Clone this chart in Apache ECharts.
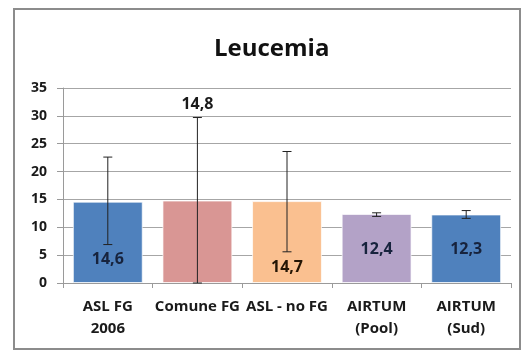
<!DOCTYPE html>
<html><head><meta charset="utf-8">
<script src="https://cdn.jsdelivr.net/npm/echarts@6/dist/echarts.min.js"></script>
<style>html,body{margin:0;padding:0;background:#fff}#c{width:528px;height:352px}</style>
</head><body><div id="c"></div>
<script>
var categories = ['ASL FG\n2006', 'Comune FG', 'ASL - no FG', 'AIRTUM\n(Pool)', 'AIRTUM\n(Sud)'];
var values = [14.6, 14.8, 14.7, 12.4, 12.3];
var labelTexts = ['14,6', '14,8', '14,7', '12,4', '12,3'];
var errLow = [6.9, 0, 5.6, 11.95, 11.6];
var errHigh = [22.6, 29.7, 23.6, 12.6, 13.0];
var yTicks = [0, 5, 10, 15, 20, 25, 30, 35];

var colors = ['#4F81BD', '#D99694', '#FAC090', '#B3A2C7', '#4F81BD'];
var labelColors = ['#17233d', '#1a1a1a', '#241505', '#17233d', '#17233d'];
var labelPos = [['inside', [0, 17]], ['inside', [0, -137]], ['inside', [0, 25]], ['inside', [0, 1]], ['inside', [0, 1]]];

var font = '"Open Sans", Lato, sans-serif';
var chart = echarts.init(document.getElementById('c'), null, {renderer: 'canvas'});
var barData = values.map(function (v, i) {
  return {
    value: v,
    itemStyle: {color: colors[i], borderColor: 'rgba(255,255,255,0.7)', borderWidth: 1},
    label: {
      show: true, position: labelPos[i][0], offset: labelPos[i][1],
      formatter: labelTexts[i], color: labelColors[i],
      fontFamily: font, fontWeight: 'bold', fontSize: 16
    }
  };
});
var errData = values.map(function (v, i) { return [i, errLow[i], errHigh[i]]; });

chart.setOption({
  animation: false,
  backgroundColor: '#fff',
  graphic: [{
    type: 'rect', shape: {x: 14, y: 9, width: 506, height: 340},
    style: {fill: 'none', stroke: '#8c8c8c', lineWidth: 2}, z: -10, silent: true
  }],
  title: {
    text: 'Leucemia', left: 209, top: 32,
    textStyle: {fontFamily: font, fontWeight: 'bold', fontSize: 24, color: '#111'}
  },
  grid: {left: 63, right: 17, top: 88, bottom: 69},
  xAxis: {
    type: 'category', data: categories,
    axisLine: {lineStyle: {color: '#9a9a9a'}},
    axisTick: {show: true, length: 5, lineStyle: {color: '#9a9a9a'}},
    axisLabel: {
      interval: 0, margin: 13, color: '#1a1a1a', fontFamily: font,
      fontWeight: 'bold', fontSize: 15, lineHeight: 22, overflow: 'none'
    }
  },
  yAxis: {
    type: 'value', min: yTicks[0], max: yTicks[yTicks.length - 1], interval: 5,
    axisLine: {show: true, lineStyle: {color: '#9a9a9a'}},
    axisTick: {show: true, length: 6, lineStyle: {color: '#9a9a9a'}},
    splitLine: {lineStyle: {color: '#a6a6a6'}},
    axisLabel: {margin: 16, color: '#1a1a1a', fontFamily: font, fontWeight: 'bold', fontSize: 14}
  },
  series: [{
    type: 'bar', data: barData, barCategoryGap: '22%', z: 2
  }, {
    type: 'custom', data: errData, z: 5,
    renderItem: function (params, api) {
      var x = api.value(0);
      var lo = api.coord([x, api.value(1)]);
      var hi = api.coord([x, api.value(2)]);
      var w = 4.5;
      var st = {stroke: '#222', lineWidth: 1};
      return {
        type: 'group', children: [
          {type: 'line', shape: {x1: lo[0], y1: lo[1], x2: hi[0], y2: hi[1]}, style: st},
          {type: 'line', shape: {x1: hi[0] - w, y1: hi[1], x2: hi[0] + w, y2: hi[1]}, style: st},
          {type: 'line', shape: {x1: lo[0] - w, y1: lo[1], x2: lo[0] + w, y2: lo[1]}, style: st}
        ]
      };
    }
  }]
});
</script></body></html>
